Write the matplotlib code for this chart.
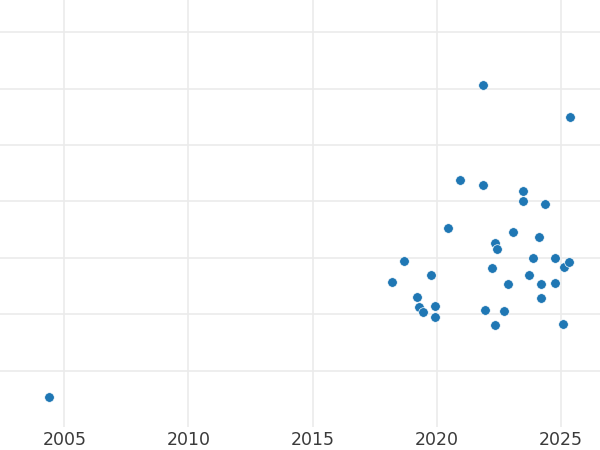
import matplotlib
matplotlib.use("Agg")
import matplotlib.pyplot as plt
import numpy as np

# year of each point and its (unlabelled) y value
years = [2004.40, 2021.84, 2025.36, 2020.94, 2021.84, 2023.47, 2023.47, 2024.36,
         2020.46, 2018.18, 2018.69, 2019.76, 2019.19, 2019.27, 2019.45, 2019.94,
         2019.94, 2021.94, 2022.35, 2022.70, 2022.21, 2022.35, 2022.43, 2023.08,
         2022.86, 2024.10, 2023.88, 2023.70, 2024.20, 2024.20, 2024.77, 2024.77,
         2025.12, 2025.33, 2025.08]
values = [0.53, 6.06, 5.49, 4.38, 4.29, 4.18, 4.00, 3.96,
          3.53, 2.57, 2.95, 2.69, 2.30, 2.12, 2.04, 2.15,
          1.95, 2.08, 1.80, 2.06, 2.81, 3.26, 3.15, 3.45,
          2.53, 3.37, 2.99, 2.69, 2.53, 2.28, 3.00, 2.55,
          2.83, 2.92, 1.83]
xticks = [2005, 2010, 2015, 2020, 2025]
yticks = [1, 2, 3, 4, 5, 6, 7]

fig = plt.figure(figsize=(6, 4.5), dpi=100)
ax = fig.add_axes([0, 23 / 450, 1, 427 / 450])

ax.scatter(years, values, s=48, color='#1f77b4', edgecolor='white',
           linewidths=0.5, zorder=3)

ax.set_xlim(2002.41, 2026.57)
ax.set_ylim(0, 7.57)
ax.set_xticks(xticks)
ax.set_xticklabels([str(t) for t in xticks])
ax.set_yticks(yticks)
ax.set_yticklabels([])

ax.grid(True, color='#ebebeb', linewidth=1.2)
ax.set_axisbelow(True)
for s in ax.spines.values():
    s.set_visible(False)
ax.tick_params(axis='both', length=0)
ax.tick_params(axis='x', labelsize=12.5, labelcolor='#3a3a3a', pad=3)

fig.savefig('out.png', dpi=100)
